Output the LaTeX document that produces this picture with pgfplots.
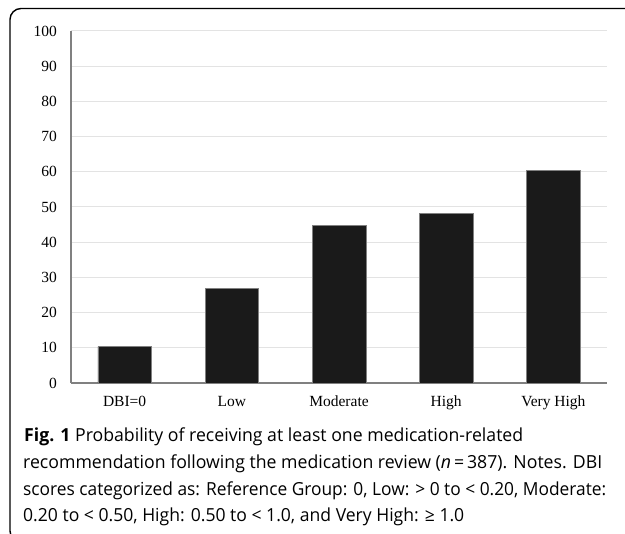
\documentclass[border=0pt]{standalone}
\usepackage{fontspec}
\setmainfont{Liberation Serif}
\newfontfamily\capfont{Open Sans}
\usepackage{graphicx}
\usepackage{pgfplots}
\pgfplotsset{compat=1.18}
\definecolor{barfill}{HTML}{1A1A1A}
\definecolor{gridc}{HTML}{E3E3E3}
\definecolor{axc}{HTML}{808080}
\newcommand{\capline}[2]{\resizebox{#1bp}{\height}{#2}}
\begin{document}
\begin{tikzpicture}[x=1bp,y=1bp]
\useasboundingbox (0,0) rectangle (625,534);
\draw[line width=1.4bp, rounded corners=11bp] (10,-8) rectangle (660,525.5);
\begin{axis}[
  at={(71bp,151bp)}, anchor=south west,
  scale only axis, width=536bp, height=352bp,
  xmin=-0.5, xmax=4.5, ymin=0, ymax=100,
  axis lines*=left,
  axis line style={axc, line width=1.1bp},
  ytick={0,10,...,100},
  xtick={0,1,2,3,4},
  xticklabels={DBI=0, Low, Moderate, High, Very High},
  major tick length=0pt,
  ymajorgrids,
  grid style={gridc, line width=1bp},
  /pgf/number format/assume math mode=true,
  ticklabel style={font=\fontsize{15.5bp}{19bp}\selectfont},
  yticklabel style={anchor=east, inner sep=0pt, xshift=-14bp},
  xticklabel style={anchor=base, inner sep=0pt, yshift=-24bp},
  clip=false,
]
\addplot[ybar, bar width=0.5, fill=barfill, draw=axc, line width=0.6bp]
  coordinates {(0,10.3) (1,26.8) (2,44.7) (3,48.2) (4,60.3)};
\end{axis}
\begin{scope}[every node/.style={anchor=base west, inner sep=0pt, font=\capfont\fontsize{18bp}{22bp}\selectfont}]
\node at (24,92) {\capline{499}{\textbf{Fig. 1} Probability of receiving at least one medication-related}};
\node at (23,65) {\capline{579}{recommendation following the medication review (\textit{n}\,=\,387). Notes. DBI}};
\node at (23,38.5) {\capline{583}{scores categorized as: Reference Group: 0, Low: > 0 to < 0.20, Moderate:}};
\node at (23,12) {\capline{441}{0.20 to < 0.50, High: 0.50 to < 1.0, and Very High: ≥ 1.0}};
\end{scope}
\end{tikzpicture}
\end{document}
